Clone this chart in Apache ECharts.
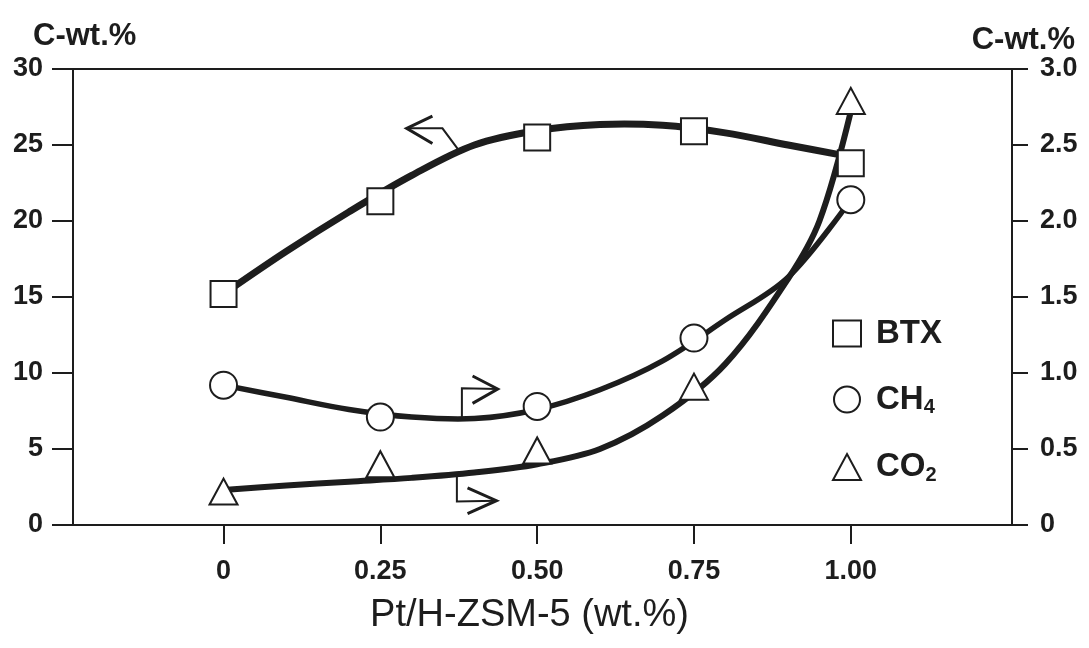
<!DOCTYPE html>
<html>
<head>
<meta charset="utf-8">
<script src="https://cdn.jsdelivr.net/npm/echarts@6/dist/echarts.min.js"></script>
<style>
  html, body { margin: 0; padding: 0; background: #ffffff; }
  #chart { width: 1089px; height: 648px; }
</style>
</head>
<body>
<div id="chart"></div>
<script>
// Pt loading on H-ZSM-5 (wt.%)
const loadings = [0, 0.25, 0.5, 0.75, 1.0];
const xTicks = [0, 0.25, 0.5, 0.75, 1.0];

// Measured products (C-wt.%): BTX on the left scale, CH4 and CO2 on the right scale
const btx = [15.2, 21.3, 25.5, 25.9, 23.8];
const ch4 = [0.92, 0.71, 0.78, 1.23, 2.14];
const co2 = [0.22, 0.40, 0.49, 0.91, 2.79];

// Hand-drawn trend curves through the measurements
const btxTrend = [[0, 15.2], [0.1, 18.0], [0.2, 20.6], [0.3, 23.0], [0.4, 25.0], [0.5, 25.95],
  [0.6, 26.35], [0.7, 26.3], [0.8, 25.8], [0.9, 25.0], [0.99, 24.3]];
const ch4Trend = [[0, 0.92], [0.1, 0.84], [0.2, 0.76], [0.3, 0.71], [0.4, 0.70], [0.5, 0.76],
  [0.6, 0.89], [0.7, 1.08], [0.8, 1.35], [0.9, 1.63], [1.0, 2.14]];
const co2Trend = [[0, 0.23], [0.1, 0.26], [0.2, 0.285], [0.3, 0.31], [0.4, 0.345], [0.5, 0.40],
  [0.6, 0.50], [0.7, 0.72], [0.8, 1.06], [0.9, 1.62], [0.95, 2.0], [1.0, 2.72]];

// Arrows telling which scale each curve belongs to (stem + head)
const btxArrowStem = [[0.376, 24.6], [0.349, 26.1], [0.292, 26.1]];
const btxArrowHead = [[0.333, 26.9], [0.292, 26.1], [0.333, 25.1]];
const ch4ArrowStem = [[0.38, 0.70], [0.38, 0.90], [0.437, 0.895]];
const ch4ArrowHead = [[0.397, 0.98], [0.437, 0.895], [0.397, 0.80]];
const co2ArrowStem = [[0.372, 0.33], [0.372, 0.155], [0.435, 0.16]];
const co2ArrowHead = [[0.389, 0.245], [0.435, 0.16], [0.389, 0.075]];

const INK = '#1d1d1d';
const FONT = '"Liberation Sans", Arial, Helvetica, sans-serif';

function pairs(xs, ys) { return xs.map((x, i) => [x, ys[i]]); }

// Smooth trend curve: a spline through the curve points, placed by the axes
function trend(name, data, yAxisIndex, width) {
  return {
    name: name, type: 'custom', xAxisIndex: 0, yAxisIndex: yAxisIndex,
    data: data, encode: { x: 0, y: 1 }, silent: true, z: 3,
    renderItem: function (params, api) {
      if (params.dataIndex !== 0) return null;
      const pts = data.map(function (p) { return api.coord(p); });
      return {
        type: 'polyline',
        shape: { points: pts, smooth: 0.34 },
        style: { fill: 'none', stroke: INK, lineWidth: width, lineCap: 'round', lineJoin: 'round' }
      };
    }
  };
}
function arrow(name, data, yAxisIndex, width) {
  return {
    name: name, type: 'line', xAxisIndex: 0, yAxisIndex: yAxisIndex,
    data: data, smooth: false, showSymbol: false, symbol: 'none', silent: true,
    lineStyle: { color: INK, width: width, join: 'miter' }, z: 3
  };
}
function markers(name, data, yAxisIndex, symbol, size) {
  return {
    name: name, type: 'scatter', xAxisIndex: 0, yAxisIndex: yAxisIndex,
    data: data, symbol: symbol, symbolSize: size,
    itemStyle: { color: '#ffffff', borderColor: INK, borderWidth: 2, opacity: 1 },
    z: 5
  };
}

const chart = echarts.init(document.getElementById('chart'), null, { renderer: 'canvas' });

chart.setOption({
  backgroundColor: '#ffffff',
  animation: false,
  textStyle: { fontFamily: FONT, color: INK },
  grid: {
    left: 73, right: 77, top: 69, bottom: 123,
    show: true, borderColor: INK, borderWidth: 2, backgroundColor: 'transparent'
  },
  legend: {
    data: ['BTX', 'CH4', 'CO2'],
    orient: 'vertical', left: 827, top: 312,
    itemWidth: 28, itemHeight: 26, itemGap: 33,
    selectedMode: false,
    formatter: function (n) {
      if (n === 'CH4') return '{t|CH}{s|4}';
      if (n === 'CO2') return '{t|CO}{s|2}';
      return '{t|' + n + '}';
    },
    textStyle: {
      color: INK,
      rich: {
        t: { fontFamily: FONT, fontSize: 33, fontWeight: 'bold', color: INK, padding: [0, 0, 0, 10] },
        s: { fontFamily: FONT, fontSize: 20, fontWeight: 'bold', color: INK, padding: [16, 0, 0, 0] }
      }
    }
  },
  xAxis: {
    type: 'value', min: -0.24, max: 1.257,
    axisLine: { show: true, onZero: false, lineStyle: { color: INK, width: 2 } },
    axisTick: { show: true, customValues: xTicks, length: 19, lineStyle: { color: INK, width: 2 } },
    axisLabel: {
      show: true, customValues: xTicks, margin: 33,
      fontSize: 27, fontWeight: 'bold', color: INK, fontFamily: FONT,
      formatter: function (v) { return v === 0 ? '0' : v.toFixed(2); }
    },
    splitLine: { show: false },
    name: 'Pt/H-ZSM-5 (wt.%)', nameLocation: 'middle', nameGap: 72,
    nameTextStyle: { fontSize: 38, color: INK, fontFamily: FONT, padding: [0, 26, 0, 0] }
  },
  yAxis: [
    {
      type: 'value', min: 0, max: 30, interval: 5, position: 'left',
      axisLine: { show: true, onZero: false, lineStyle: { color: INK, width: 2 } },
      axisTick: { show: true, length: 21, lineStyle: { color: INK, width: 2 } },
      axisLabel: { margin: 30, fontSize: 27, fontWeight: 'bold', color: INK, fontFamily: FONT },
      splitLine: { show: false },
      name: 'C-wt.%', nameLocation: 'end', nameGap: 17,
      nameTextStyle: { fontSize: 31, fontWeight: 'bold', color: INK, fontFamily: FONT,
        align: 'left', padding: [0, 0, 0, -40] }
    },
    {
      type: 'value', min: 0, max: 3, interval: 0.5, position: 'right',
      axisLine: { show: true, onZero: false, lineStyle: { color: INK, width: 2 } },
      axisTick: { show: true, length: 16, lineStyle: { color: INK, width: 2 } },
      axisLabel: {
        margin: 28, fontSize: 27, fontWeight: 'bold', color: INK, fontFamily: FONT,
        formatter: function (v) { return v === 0 ? '0' : v.toFixed(1); }
      },
      splitLine: { show: false },
      name: 'C-wt.%', nameLocation: 'end', nameGap: 8,
      nameTextStyle: { fontSize: 31, fontWeight: 'bold', color: INK, fontFamily: FONT,
        align: 'right', padding: [0, -63, 0, 0] }
    }
  ],
  series: [
    trend('BTX trend', btxTrend, 0, 7),
    trend('CH4 trend', ch4Trend, 1, 5.5),
    trend('CO2 trend', co2Trend, 1, 6),
    arrow('BTX scale', btxArrowStem, 0, 2),
    arrow('BTX scale head', btxArrowHead, 0, 3),
    arrow('CH4 scale', ch4ArrowStem, 1, 2),
    arrow('CH4 scale head', ch4ArrowHead, 1, 3),
    arrow('CO2 scale', co2ArrowStem, 1, 2),
    arrow('CO2 scale head', co2ArrowHead, 1, 3),
    markers('BTX', pairs(loadings, btx), 0, 'rect', 26),
    markers('CH4', pairs(loadings, ch4), 1, 'circle', 27),
    markers('CO2', pairs(loadings, co2), 1, 'triangle', [28, 26])
  ]
});
</script>
</body>
</html>
